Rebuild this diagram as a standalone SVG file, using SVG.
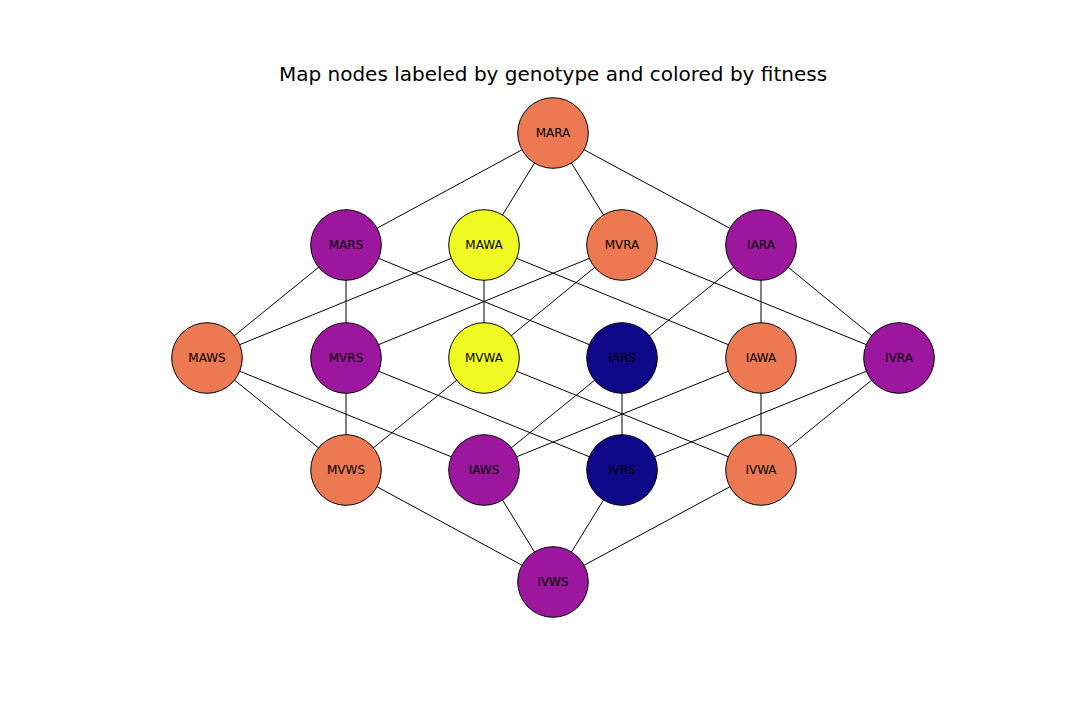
<svg xmlns="http://www.w3.org/2000/svg" width="1080" height="720" viewBox="0 0 1080 720">
<style>
.e{stroke:#000;stroke-width:1;fill:none}
.n{stroke:#000;stroke-width:1}
.t{font-family:"DejaVu Sans",sans-serif;font-size:12px;text-anchor:middle;dominant-baseline:central;fill:#000}
.o{fill:#ed7953}.p{fill:#9c179e}.y{fill:#f0f921}.b{fill:#0d0887}
</style>
<rect width="1080" height="720" fill="#fff"/>
<text x="553" y="74" font-family="DejaVu Sans,sans-serif" font-size="20" text-anchor="middle" dominant-baseline="central">Map nodes labeled by genotype and colored by fitness</text>
<g id="edges" class="e">
<line x1="553" y1="133" x2="346" y2="245"/>
<line x1="553" y1="133" x2="484" y2="245"/>
<line x1="553" y1="133" x2="622" y2="245"/>
<line x1="553" y1="133" x2="761" y2="245"/>
<line x1="346" y1="245" x2="207" y2="358"/>
<line x1="346" y1="245" x2="346" y2="358"/>
<line x1="346" y1="245" x2="622" y2="358"/>
<line x1="484" y1="245" x2="207" y2="358"/>
<line x1="484" y1="245" x2="484" y2="358"/>
<line x1="484" y1="245" x2="761" y2="358"/>
<line x1="622" y1="245" x2="346" y2="358"/>
<line x1="622" y1="245" x2="484" y2="358"/>
<line x1="622" y1="245" x2="899" y2="358"/>
<line x1="761" y1="245" x2="622" y2="358"/>
<line x1="761" y1="245" x2="761" y2="358"/>
<line x1="761" y1="245" x2="899" y2="358"/>
<line x1="207" y1="358" x2="346" y2="470"/>
<line x1="207" y1="358" x2="484" y2="470"/>
<line x1="346" y1="358" x2="346" y2="470"/>
<line x1="346" y1="358" x2="622" y2="470"/>
<line x1="484" y1="358" x2="346" y2="470"/>
<line x1="484" y1="358" x2="761" y2="470"/>
<line x1="622" y1="358" x2="484" y2="470"/>
<line x1="622" y1="358" x2="622" y2="470"/>
<line x1="761" y1="358" x2="484" y2="470"/>
<line x1="761" y1="358" x2="761" y2="470"/>
<line x1="899" y1="358" x2="622" y2="470"/>
<line x1="899" y1="358" x2="761" y2="470"/>
<line x1="346" y1="470" x2="553" y2="582"/>
<line x1="484" y1="470" x2="553" y2="582"/>
<line x1="622" y1="470" x2="553" y2="582"/>
<line x1="761" y1="470" x2="553" y2="582"/>
</g>
<g id="MARA"><circle class="n o" cx="553" cy="133" r="35.3"/><text class="t" x="553" y="133">MARA</text></g>
<g id="MARS"><circle class="n p" cx="346" cy="245" r="35.3"/><text class="t" x="346" y="245">MARS</text></g>
<g id="MAWA"><circle class="n y" cx="484" cy="245" r="35.3"/><text class="t" x="484" y="245">MAWA</text></g>
<g id="MVRA"><circle class="n o" cx="622" cy="245" r="35.3"/><text class="t" x="622" y="245">MVRA</text></g>
<g id="IARA"><circle class="n p" cx="761" cy="245" r="35.3"/><text class="t" x="761" y="245">IARA</text></g>
<g id="MAWS"><circle class="n o" cx="207" cy="358" r="35.3"/><text class="t" x="207" y="358">MAWS</text></g>
<g id="MVRS"><circle class="n p" cx="346" cy="358" r="35.3"/><text class="t" x="346" y="358">MVRS</text></g>
<g id="MVWA"><circle class="n y" cx="484" cy="358" r="35.3"/><text class="t" x="484" y="358">MVWA</text></g>
<g id="IARS"><circle class="n b" cx="622" cy="358" r="35.3"/><text class="t" x="622" y="358">IARS</text></g>
<g id="IAWA"><circle class="n o" cx="761" cy="358" r="35.3"/><text class="t" x="761" y="358">IAWA</text></g>
<g id="IVRA"><circle class="n p" cx="899" cy="358" r="35.3"/><text class="t" x="899" y="358">IVRA</text></g>
<g id="MVWS"><circle class="n o" cx="346" cy="470" r="35.3"/><text class="t" x="346" y="470">MVWS</text></g>
<g id="IAWS"><circle class="n p" cx="484" cy="470" r="35.3"/><text class="t" x="484" y="470">IAWS</text></g>
<g id="IVRS"><circle class="n b" cx="622" cy="470" r="35.3"/><text class="t" x="622" y="470">IVRS</text></g>
<g id="IVWA"><circle class="n o" cx="761" cy="470" r="35.3"/><text class="t" x="761" y="470">IVWA</text></g>
<g id="IVWS"><circle class="n p" cx="553" cy="582" r="35.3"/><text class="t" x="553" y="582">IVWS</text></g>
</svg>
